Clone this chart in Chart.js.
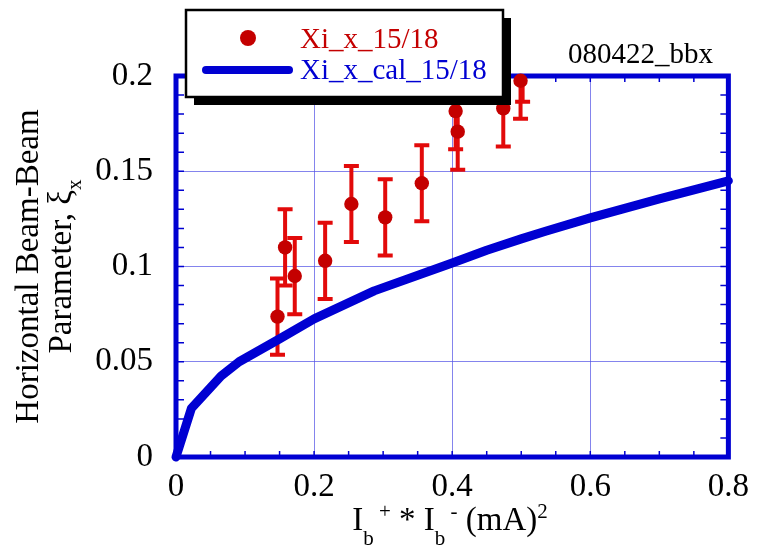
<!DOCTYPE html>
<html>
<head>
<meta charset="utf-8">
<script src="https://cdn.jsdelivr.net/npm/chart.js@4.4.1/dist/chart.umd.min.js"></script>
<style>
  html, body { margin: 0; padding: 0; background: #fff; }
  #wrap { width: 760px; height: 545px; }
</style>
</head>
<body>
<div id="wrap"><canvas id="bbChart" width="760" height="545"></canvas></div>
<script>
// measured beam-beam parameter (Xi_x_15/18)
const measX = [0.147, 0.158, 0.172, 0.216, 0.254, 0.303, 0.356, 0.405, 0.408, 0.474, 0.499, 0.502];
const measY = [0.0737, 0.110, 0.095, 0.103, 0.1328, 0.1258, 0.1437, 0.1816, 0.1708, 0.183, 0.1975, 0.2065];
const measErr = [0.02, 0.02, 0.02, 0.02, 0.02, 0.02, 0.02, 0.02, 0.02, 0.02, 0.02, 0.02];

// calculated curve (Xi_x_cal_15/18)
const calX = [0, 0.0224, 0.0653, 0.0914, 0.149, 0.2, 0.287, 0.4, 0.45, 0.5, 0.534, 0.6, 0.7, 0.8];
const calY = [0, 0.0256, 0.0425, 0.050, 0.0618, 0.0725, 0.0872, 0.1018, 0.1085, 0.1145, 0.1184, 0.1255, 0.1355, 0.145];

const xTickLabels = ['0', '0.2', '0.4', '0.6', '0.8'];
const yTickLabels = ['0', '0.05', '0.1', '0.15', '0.2'];
const seriesLabels = ['Xi_x_15/18', 'Xi_x_cal_15/18'];
const runLabel = '080422_bbx';

const SERIF = "'Liberation Serif', 'Times New Roman', serif";
const BLUE = '#0000d2';
const RED_PT = '#c40000';
const RED_BAR = '#e20a0a';

// error bars + frame + small ticks, under the data
const framePlugin = {
  id: 'framePlugin',
  beforeDatasetsDraw(chart) {
    const { ctx, chartArea: a, scales } = chart;
    const xs = scales.x, ys = scales.y;

    // error bars
    ctx.save();
    ctx.beginPath();
    ctx.rect(a.left, a.top, a.right - a.left, a.bottom - a.top);
    ctx.clip();
    ctx.strokeStyle = RED_BAR;
    ctx.lineWidth = 4;
    measX.forEach((xv, i) => {
      const px = xs.getPixelForValue(xv);
      const lo = ys.getPixelForValue(measY[i] - measErr[i]);
      const hi = ys.getPixelForValue(measY[i] + measErr[i]);
      ctx.beginPath();
      ctx.moveTo(px, lo); ctx.lineTo(px, hi);
      ctx.moveTo(px - 7.5, lo); ctx.lineTo(px + 7.5, lo);
      ctx.moveTo(px - 7.5, hi); ctx.lineTo(px + 7.5, hi);
      ctx.stroke();
    });
    ctx.restore();

    // small ticks, inside
    ctx.save();
    ctx.strokeStyle = BLUE;
    ctx.lineWidth = 1.5;
    ctx.beginPath();
    for (let k = 1; k < 16; k++) {
      const px = xs.getPixelForValue(k * 0.05);
      ctx.moveTo(px, a.bottom); ctx.lineTo(px, a.bottom - 6);
      ctx.moveTo(px, a.top); ctx.lineTo(px, a.top + 6);
    }
    for (let k = 1; k < 20; k++) {
      const py = ys.getPixelForValue(k * 0.01);
      ctx.moveTo(a.left, py); ctx.lineTo(a.left + 8, py);
      ctx.moveTo(a.right, py); ctx.lineTo(a.right - 8, py);
    }
    ctx.stroke();

    // frame
    ctx.lineWidth = 5;
    ctx.strokeRect(a.left, a.top, a.right - a.left, a.bottom - a.top);
    ctx.restore();
  },
};

// axis titles, run label and the boxed legend
const textPlugin = {
  id: 'textPlugin',
  afterDraw(chart) {
    const { ctx, chartArea: a } = chart;
    ctx.save();
    ctx.fillStyle = '#000';
    ctx.textBaseline = 'alphabetic';

    // run label
    ctx.font = '29px ' + SERIF;
    ctx.textAlign = 'left';
    ctx.fillText(runLabel, 568, 63);

    // x title: I_b^+ * I_b^- (mA)^2
    const parts = [
      ['I', 0], ['b', -1], [' +', 1], [' * I', 0], ['b', -1], [' -', 1], [' (mA)', 0], ['2', 1],
    ];
    const fontOf = (m) => (m === 0 ? '33px ' : '21px ') + SERIF;
    let total = 0;
    parts.forEach(([t, m]) => { ctx.font = fontOf(m); total += ctx.measureText(t).width; });
    let cx = 450 - total / 2;
    parts.forEach(([t, m]) => {
      ctx.font = fontOf(m);
      const by = m === 0 ? 530 : (m < 0 ? 545 : 518);
      ctx.fillText(t, cx, by);
      cx += ctx.measureText(t).width;
    });

    // y title, two lines, rotated
    const cy = (a.top + a.bottom) / 2;
    ctx.font = '33px ' + SERIF;
    ctx.save();
    ctx.translate(38, cy);
    ctx.rotate(-Math.PI / 2);
    ctx.textAlign = 'center';
    ctx.fillText('Horizontal Beam-Beam', 0, 0);
    ctx.restore();

    ctx.save();
    ctx.translate(71, cy);
    ctx.rotate(-Math.PI / 2);
    ctx.textAlign = 'left';
    const mainTxt = 'Parameter, \u03BE';
    ctx.font = '33px ' + SERIF;
    const w1 = ctx.measureText(mainTxt).width;
    ctx.font = '21px ' + SERIF;
    const w2 = ctx.measureText('x').width;
    const sx = -(w1 + w2) / 2;
    ctx.font = '33px ' + SERIF;
    ctx.fillText(mainTxt, sx, 0);
    ctx.font = '21px ' + SERIF;
    ctx.fillText('x', sx + w1, 10);
    ctx.restore();

    // legend box with shadow
    const L = 186, T = 10, R = 503, B = 97;
    ctx.fillStyle = '#000';
    ctx.fillRect(L + 8, T + 8, R - L, B - T);
    ctx.fillStyle = '#fff';
    ctx.fillRect(L, T, R - L, B - T);
    ctx.strokeStyle = '#000';
    ctx.lineWidth = 2.5;
    ctx.strokeRect(L, T, R - L, B - T);

    const ds = chart.data.datasets;
    ctx.fillStyle = RED_PT;
    ctx.beginPath();
    ctx.arc(248, 38, 8, 0, Math.PI * 2);
    ctx.fill();
    ctx.strokeStyle = BLUE;
    ctx.lineWidth = 8;
    ctx.lineCap = 'round';
    ctx.beginPath();
    ctx.moveTo(206, 70); ctx.lineTo(289, 70);
    ctx.stroke();

    ctx.font = '29px ' + SERIF;
    ctx.textAlign = 'left';
    ctx.fillStyle = RED_PT;
    ctx.fillText(ds[0].label, 300, 48);
    ctx.fillStyle = BLUE;
    ctx.fillText(ds[1].label, 300, 79);
    ctx.restore();
  },
};

const ctx = document.getElementById('bbChart').getContext('2d');
new Chart(ctx, {
  type: 'scatter',
  data: {
    datasets: [
      {
        label: seriesLabels[0],
        data: measX.map((x, i) => ({ x: x, y: measY[i] })),
        pointRadius: 7.2,
        pointBackgroundColor: RED_PT,
        pointBorderColor: RED_PT,
        pointBorderWidth: 0,
        showLine: false,
        clip: { left: 10, right: 10, top: 4, bottom: 10 },
      },
      {
        label: seriesLabels[1],
        type: 'line',
        data: calX.map((x, i) => ({ x: x, y: calY[i] })),
        borderColor: BLUE,
        borderWidth: 9,
        borderCapStyle: 'round',
        borderJoinStyle: 'round',
        pointRadius: 0,
        tension: 0,
        fill: false,
        clip: 8,
      },
    ],
  },
  options: {
    responsive: false,
    animation: false,
    layout: { padding: { top: 76, right: 24, left: 0, bottom: 0 } },
    plugins: {
      legend: { display: false },
      tooltip: { enabled: false },
    },
    scales: {
      x: {
        type: 'linear',
        min: 0,
        max: 0.8,
        afterFit: (s) => { s.height = 88; },
        ticks: {
          stepSize: 0.2,
          padding: 11,
          color: '#000',
          font: { family: SERIF, size: 33 },
          maxRotation: 0,
          callback: (v, i) => xTickLabels[i],
        },
        grid: {
          color: 'rgba(80,80,230,0.7)',
          lineWidth: 1,
          drawTicks: false,
        },
        border: { display: false },
      },
      y: {
        type: 'linear',
        min: 0,
        max: 0.2,
        afterFit: (s) => { s.width = 176; },
        ticks: {
          stepSize: 0.05,
          padding: 23,
          color: '#000',
          font: { family: SERIF, size: 33 },
          callback: (v, i) => yTickLabels[i],
        },
        grid: {
          color: 'rgba(80,80,230,0.7)',
          lineWidth: 1,
          drawTicks: false,
        },
        border: { display: false },
      },
    },
  },
  plugins: [framePlugin, textPlugin],
});
</script>
</body>
</html>
